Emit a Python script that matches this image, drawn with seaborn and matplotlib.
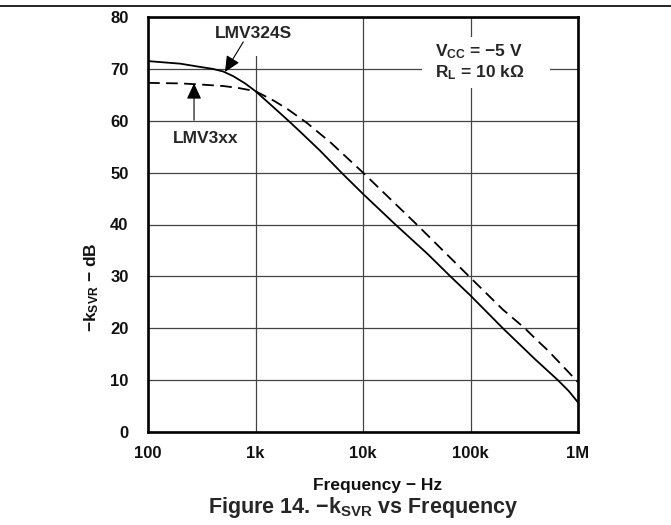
import matplotlib
matplotlib.use("Agg")
import matplotlib.pyplot as plt
import seaborn as sns
import pandas as pd
from matplotlib.lines import Line2D
from matplotlib.patches import Rectangle
from matplotlib.ticker import FixedLocator, NullLocator

# ---- data ----
freq_lmv324s = [100, 200, 300, 400, 500, 620, 800, 1000, 1400, 2000, 2600, 4000,
                6300, 10000, 20000, 40000, 65000, 100000, 200000, 400000,
                650000, 820000, 1000000]
ksvr_lmv324s = [71.5, 71.0, 70.4, 70.0, 69.5, 68.6, 67.2, 65.7, 63.0, 60.1, 57.9, 54.2,
                50.0, 45.9, 40.0, 34.3, 30.0, 26.3, 20.0, 14.0,
                10.0, 7.9, 5.7]

freq_lmv3xx = [100, 200, 300, 500, 700, 1000, 1500, 2000, 3000, 5000, 10000,
               31600, 97000, 200000, 320000, 420000, 520000, 700000, 1000000]
ksvr_lmv3xx = [67.3, 67.2, 67.0, 66.7, 66.3, 65.7, 63.8, 62.2, 59.6, 55.8, 50.0,
               40.0, 30.0, 23.6, 20.0, 17.6, 15.8, 13.0, 9.6]

x_ticks = [100, 1000, 10000, 100000, 1000000]
x_tick_labels = ["100", "1k", "10k", "100k", "1M"]
y_ticks = [0, 10, 20, 30, 40, 50, 60, 70, 80]

df_a = pd.DataFrame({"freq": freq_lmv324s, "ksvr": ksvr_lmv324s})
df_b = pd.DataFrame({"freq": freq_lmv3xx, "ksvr": ksvr_lmv3xx})

sns.set_theme(style="white")
plt.rcParams["font.family"] = ["Liberation Sans", "DejaVu Sans"]
plt.rcParams["font.weight"] = "bold"
plt.rcParams["mathtext.fontset"] = "custom"
plt.rcParams["mathtext.rm"] = "Liberation Sans:bold"
plt.rcParams["mathtext.it"] = "Liberation Sans:bold"
plt.rcParams["mathtext.bf"] = "Liberation Sans:bold"
plt.rcParams["mathtext.default"] = "rm"

fig = plt.figure(figsize=(6.71, 5.25), dpi=100)
ax = fig.add_axes([148 / 671, 1 - 432 / 525, 430 / 671, 415 / 525])

sns.lineplot(data=df_a, x="freq", y="ksvr", ax=ax, color="black", lw=1.3,
             sort=False, zorder=5)
sns.lineplot(data=df_b, x="freq", y="ksvr", ax=ax, color="black", lw=1.3,
             sort=False, zorder=5, dashes=False)
ax.lines[-1].set_dashes((6.5, 3.5))

ax.set_xscale("log")
ax.set_xlim(100, 1e6)
ax.set_ylim(0, 80)
ax.xaxis.set_major_locator(FixedLocator(x_ticks))
ax.xaxis.set_minor_locator(NullLocator())
ax.set_xticklabels(x_tick_labels)
ax.yaxis.set_major_locator(FixedLocator(y_ticks))
ax.tick_params(axis="both", length=0, labelsize=12, colors="#111111")
ax.tick_params(axis="x", pad=10)
ax.tick_params(axis="y", pad=14)
for lab in ax.get_xticklabels() + ax.get_yticklabels():
    lab.set_fontweight("bold")

ax.grid(True, which="major", color="#444444", lw=0.9, zorder=1)
ax.set_axisbelow(True)
for s in ax.spines.values():
    s.set_color("black")
    s.set_linewidth(1.9)
    s.set_zorder(10)

ax.set_xlabel("Frequency \u2212 Hz", fontsize=12.5, fontweight="bold", color="#111111")
ax.xaxis.set_label_coords(0.535, -0.112)
ax.set_ylabel(r"$\mathregular{-k_{SVR}}$" + " \u2212 dB", fontsize=12.5,
              fontweight="bold", color="#111111")
ax.yaxis.set_label_coords(-0.11, 0.35)

# white box behind conditions text
ax.add_patch(Rectangle((0.637, 0.829), 0.298, 0.123, transform=ax.transAxes,
                       facecolor="white", edgecolor="none", zorder=2))
ax.text(1.22e5, 71.3, "$\\mathregular{V_{CC}}$ = \u22125 V\n$\\mathregular{R_{L}}$ = 10 k\u03a9",
        ha="center", va="center", multialignment="left", fontsize=12.5,
        fontweight="bold", zorder=6, linespacing=1.2)

ax.text(950, 76.9, "LMV324S", ha="center", va="center", fontsize=12.5,
        fontweight="bold", zorder=6,
        bbox=dict(boxstyle="square,pad=0.9", facecolor="white", edgecolor="none"))
ax.annotate("", xy=(520, 69.4), xytext=(770, 75.2),
            arrowprops=dict(arrowstyle="-|>,head_length=0.6,head_width=0.28",
                            color="black", lw=0.8,
                            mutation_scale=16, shrinkA=0, shrinkB=0), zorder=7)

ax.text(340, 56.6, "LMV3xx", ha="center", va="center", fontsize=12.5,
        fontweight="bold", zorder=6)
ax.annotate("", xy=(268, 67.2), xytext=(268, 60.1),
            arrowprops=dict(arrowstyle="-|>,head_length=0.6,head_width=0.28",
                            color="black", lw=0.8,
                            mutation_scale=16, shrinkA=0, shrinkB=0), zorder=7)

fig.text(363 / 671, 1 - 508 / 525, r"Figure 14. $\mathregular{-k_{SVR}}$ vs Frequency",
         ha="center", va="center", fontsize=15.5, fontweight="bold")
fig.add_artist(Line2D([0, 1], [1 - 5.5 / 525, 1 - 5.5 / 525], color="black", lw=1.2))

fig.savefig("out.png", dpi=100)
